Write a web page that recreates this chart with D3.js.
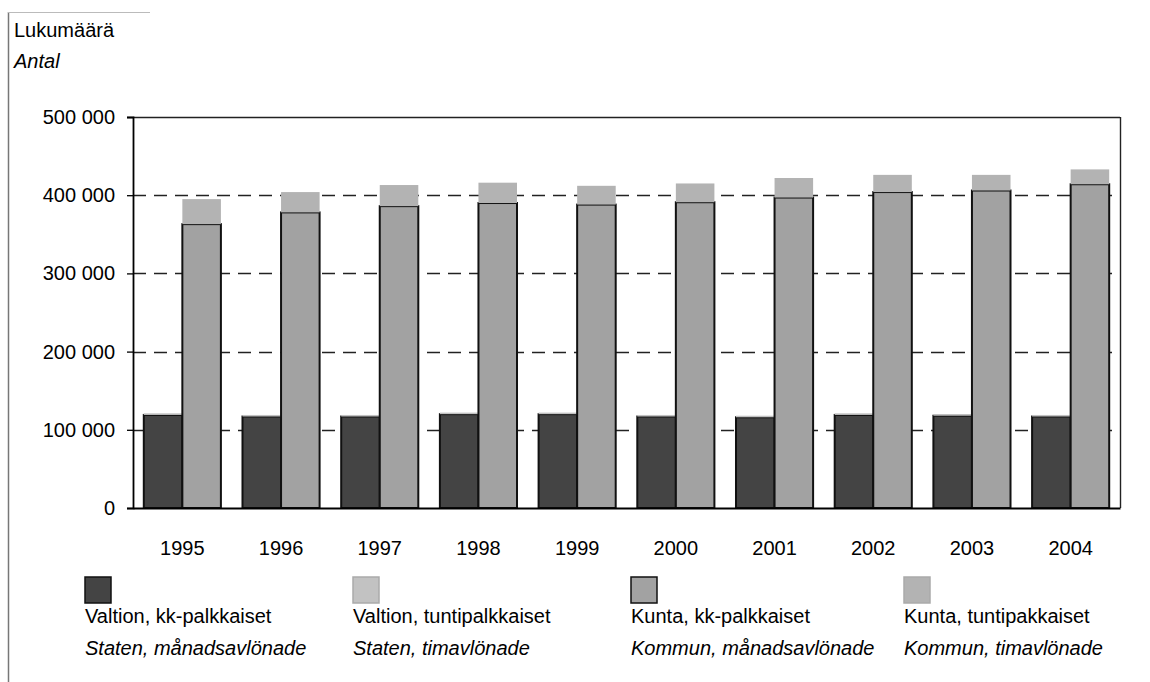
<!DOCTYPE html>
<html>
<head>
<meta charset="utf-8">
<script src="https://cdn.jsdelivr.net/npm/d3@7"></script>
<style>
  body { margin:0; background:#fff; }
  text { font-family: "Liberation Sans", Arial, sans-serif; fill:#000; }
</style>
</head>
<body>
<div id="plot"></div>
<script>
// data
var years = ['1995','1996','1997','1998','1999','2000','2001','2002','2003','2004'];
var valtionKk    = [119000,117000,117000,120000,120000,117000,116000,119000,118000,117000];
var valtionTunti = [2000,2000,2000,2000,2000,2000,2000,2000,2000,2000];
var kuntaKk      = [363000,378000,386000,390000,388000,391000,397000,404000,406000,414000];
var kuntaTunti   = [32000,26000,27000,26000,24000,24000,25000,22000,20000,19000];
var yTicks = [0,100000,200000,300000,400000,500000];

var seriesNames = [
  {key:'vk', fi:'Valtion, kk-palkkaiset',   sv:'Staten, månadsavlönade',   fill:'#444', stroke:'#111'},
  {key:'vt', fi:'Valtion, tuntipalkkaiset', sv:'Staten, timavlönade',      fill:'#c2c2c2', stroke:'none'},
  {key:'kk', fi:'Kunta, kk-palkkaiset',     sv:'Kommun, månadsavlönade',   fill:'#a2a2a2', stroke:'#111'},
  {key:'kt', fi:'Kunta, tuntipakkaiset',    sv:'Kommun, timavlönade',      fill:'#b3b3b3', stroke:'none'}
];

var W = 1150, H = 682;
var m = {l:133, r:30, t:117, b:174};

var svg = d3.select('#plot').append('svg')
    .attr('width', W)
    .attr('height', H);

// outer frame bits from the scan
svg.append('line').attr('x1',8.5).attr('x2',8.5).attr('y1',12).attr('y2',H)
    .attr('stroke','#777').attr('stroke-width',1.5);
svg.append('line').attr('x1',8).attr('x2',150).attr('y1',12.5).attr('y2',12.5)
    .attr('stroke','#bbb').attr('stroke-width',1);

svg.append('text').attr('x',14).attr('y',37).style('font-size','20px').text('Lukumäärä');
svg.append('text').attr('x',14).attr('y',68).style('font-size','20px').style('font-style','italic').text('Antal');

var x = d3.scaleBand().domain(years).range([m.l, W - m.r]);
var xs = d3.scaleBand().domain(['valtion','kunta']).range([0, x.bandwidth()]).paddingOuter(0.28);
var y = d3.scaleLinear().domain([0,500000]).range([H - m.b, m.t]);

var loc = d3.formatLocale({decimal:',', thousands:' ', grouping:[3], currency:['','']});
var fmt = loc.format(',');

// dashed gridlines
svg.selectAll('.grid')
    .data(yTicks.filter(function(d){ return d > 0 && d < 500000; }))
    .enter().append('line')
    .attr('x1', m.l).attr('x2', W - m.r)
    .attr('y1', function(d){ return Math.round(y(d)) + 0.5; })
    .attr('y2', function(d){ return Math.round(y(d)) + 0.5; })
    .attr('stroke','#222').attr('stroke-width',1.3)
    .attr('stroke-dasharray','13,8');

// rows for stacks
var rows = years.map(function(yr, i){
  return {year:yr, vk:valtionKk[i], vt:valtionTunti[i], kk:kuntaKk[i], kt:kuntaTunti[i]};
});
var stackV = d3.stack().keys(['vk','vt'])(rows);
var stackK = d3.stack().keys(['kk','kt'])(rows);

function drawStack(st, group){
  st.forEach(function(layer){
    var s = seriesNames.filter(function(n){ return n.key == layer.key; })[0];
    svg.append('g').selectAll('rect')
      .data(layer)
      .enter().append('rect')
      .attr('x', function(d){ return x(d.data.year) + xs(group); })
      .attr('y', function(d){ return y(d[1]); })
      .attr('width', xs.bandwidth())
      .attr('height', function(d){ return y(d[0]) - y(d[1]); })
      .attr('fill', s.fill)
      .attr('stroke', s.stroke)
      .attr('stroke-width', s.stroke == 'none' ? 0 : 2);
  });
}
drawStack(stackV, 'valtion');
drawStack(stackK, 'kunta');

// plot frame: top & right solid, left axis, bottom axis
svg.append('line').attr('x1',m.l).attr('x2',W-m.r).attr('y1',m.t+0.5).attr('y2',m.t+0.5)
    .attr('stroke','#222').attr('stroke-width',1.4);
svg.append('line').attr('x1',W-m.r+0.5).attr('x2',W-m.r+0.5).attr('y1',m.t).attr('y2',H-m.b)
    .attr('stroke','#222').attr('stroke-width',1.4);

var yAxis = svg.append('g')
    .attr('transform','translate(' + m.l + ',0)')
    .call(d3.axisLeft(y).tickValues(yTicks).tickSize(6).tickPadding(12).tickFormat(fmt));
yAxis.select('.domain').attr('stroke','#000').attr('stroke-width',1.8);
yAxis.selectAll('.tick line').attr('stroke','#000').attr('stroke-width',1.3);
yAxis.selectAll('text').style('font-size','20px').attr('fill','#000');

var xAxis = svg.append('g')
    .attr('transform','translate(0,' + (H - m.b) + ')')
    .call(d3.axisBottom(x).tickSize(0).tickPadding(33));
xAxis.select('.domain').attr('stroke','#000').attr('stroke-width',1.8);
xAxis.selectAll('text').style('font-size','20px').attr('fill','#000');

// legend
var legX = [85, 353, 631, 904];
var leg = svg.selectAll('.leg')
    .data(seriesNames)
    .enter().append('g')
    .attr('transform', function(d,i){ return 'translate(' + legX[i] + ',577)'; });

leg.append('rect')
    .attr('width',26).attr('height',26)
    .attr('fill', function(d){ return d.fill; })
    .attr('stroke', function(d){ return d.stroke == 'none' ? '#aaa' : d.stroke; })
    .attr('stroke-width',1.5);
leg.append('text').attr('x',0).attr('y',46).style('font-size','20px')
    .text(function(d){ return d.fi; });
leg.append('text').attr('x',0).attr('y',78).style('font-size','20px').style('font-style','italic')
    .text(function(d){ return d.sv; });
</script>
</body>
</html>
